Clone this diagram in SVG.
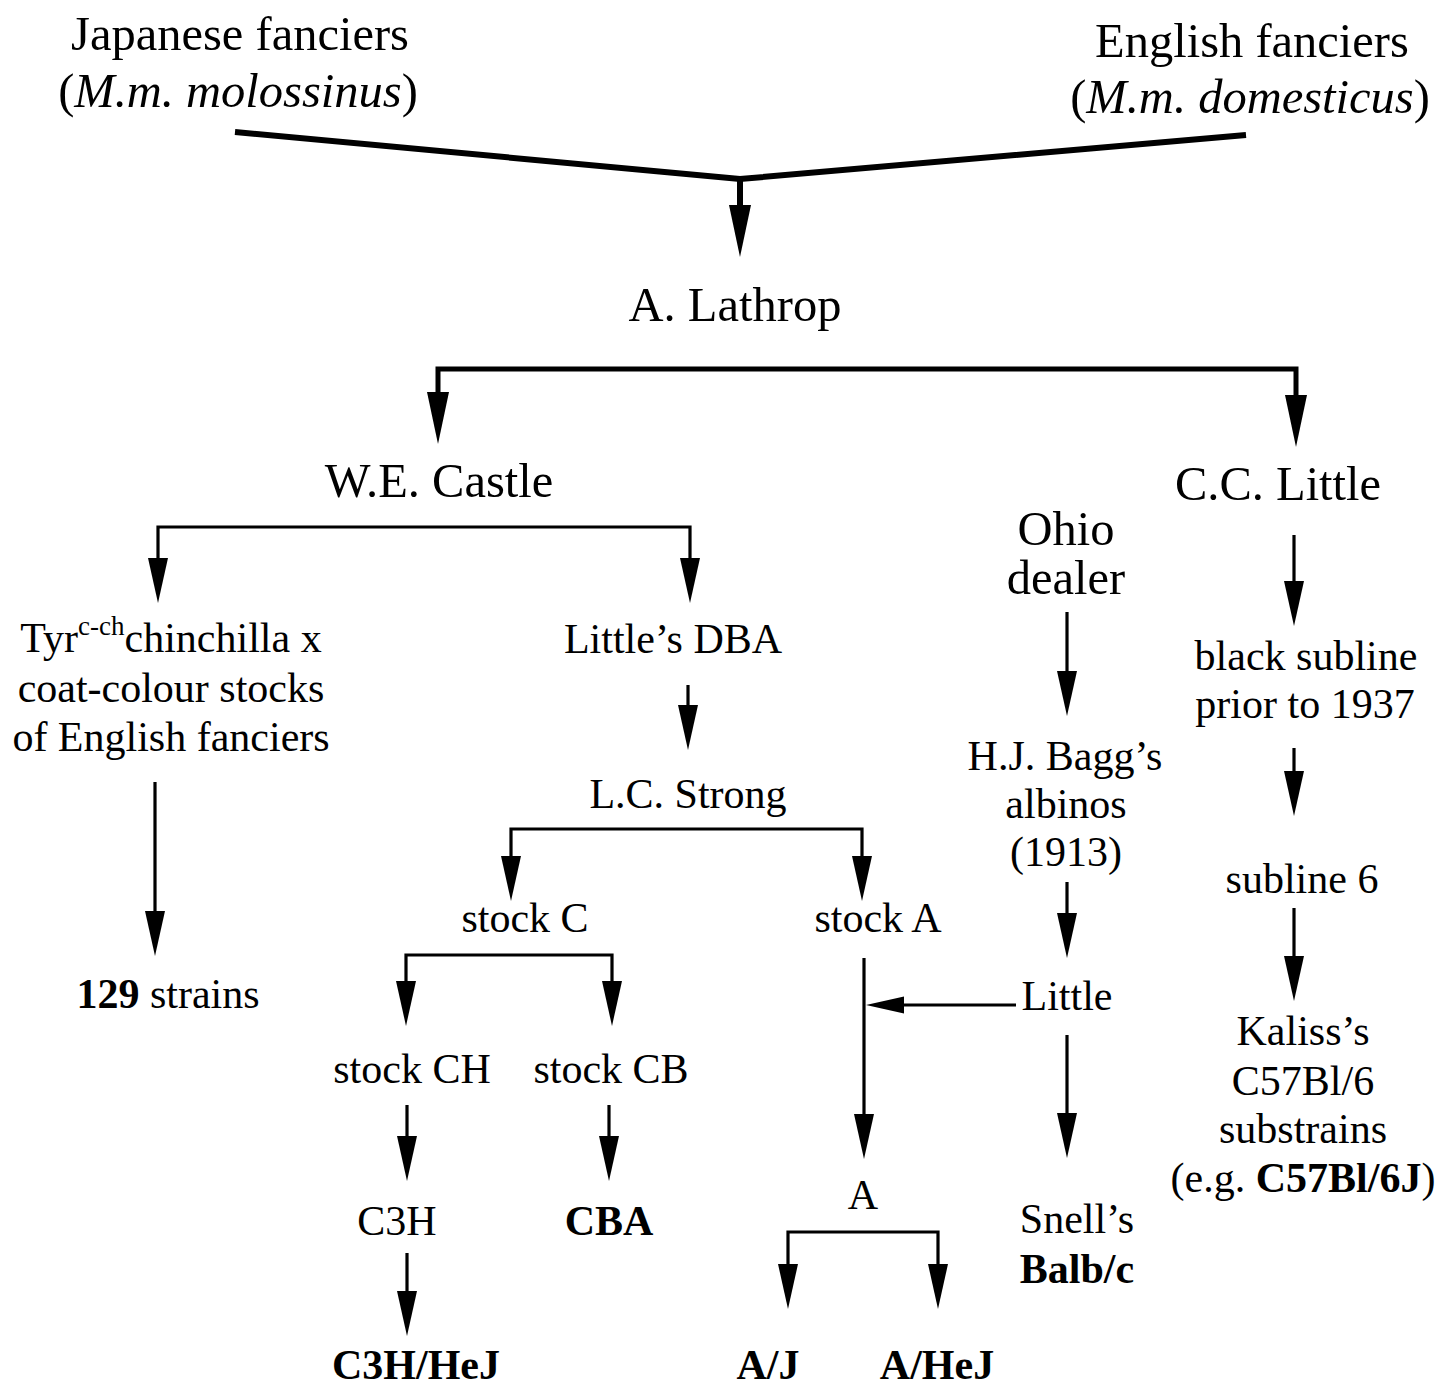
<svg xmlns="http://www.w3.org/2000/svg" width="1445" height="1388" viewBox="0 0 1445 1388">
  <style>
    text { font-family: "Liberation Serif", "Times New Roman", serif; fill: #000; text-anchor: middle; }
    .big { font-size: 48.5px; }
    .sm { font-size: 42px; }
    .b { font-weight: bold; }
    .it { font-style: italic; }
    .sup { font-size: 27px; }
    .wire { fill: none; stroke: #000; stroke-linejoin: miter; stroke-linecap: butt; }
    .w6 { stroke-width: 6; }
    .w5 { stroke-width: 5; }
    .w3 { stroke-width: 3.2; }
    .w2 { stroke-width: 2.8; }
  </style>
  <defs>
    <!-- arrowheads start at the line end and point forward -->
    <marker id="ahBig" markerUnits="userSpaceOnUse" markerWidth="60" markerHeight="30" refX="0" refY="11" orient="auto" overflow="visible">
      <path d="M0,0 L52,11 L0,22 Z" fill="#000"/>
    </marker>
    <marker id="ahMid" markerUnits="userSpaceOnUse" markerWidth="50" markerHeight="24" refX="0" refY="10" orient="auto" overflow="visible">
      <path d="M0,0 L45,10 L0,20 Z" fill="#000"/>
    </marker>
    <marker id="ahSide" markerUnits="userSpaceOnUse" markerWidth="44" markerHeight="20" refX="0" refY="8.5" orient="auto" overflow="visible">
      <path d="M0,0 L38,8.5 L0,17 Z" fill="#000"/>
    </marker>
  </defs>

  <!-- connectors -->
  <g id="connectors">
    <!-- fanciers merge into Lathrop -->
    <polyline class="wire w6" points="235,132 740,179 1246,135"/>
    <path class="wire w6" d="M740,179 V205" marker-end="url(#ahBig)"/>
    <!-- Lathrop split -->
    <path class="wire w5" d="M867,369 H438 V392" marker-end="url(#ahBig)"/>
    <path class="wire w5" d="M867,369 H1296 V395" marker-end="url(#ahBig)"/>
    <!-- Castle split -->
    <path class="wire w3" d="M420,527 H158 V558" marker-end="url(#ahMid)"/>
    <path class="wire w3" d="M420,527 H690 V558" marker-end="url(#ahMid)"/>
    <!-- chinchilla cross to 129 -->
    <path class="wire w3" d="M155,782 V911" marker-end="url(#ahMid)"/>
    <!-- DBA to Strong -->
    <path class="wire w3" d="M688,685 V705" marker-end="url(#ahMid)"/>
    <!-- Strong split -->
    <path class="wire w3" d="M690,829 H511 V856" marker-end="url(#ahMid)"/>
    <path class="wire w3" d="M690,829 H862 V856" marker-end="url(#ahMid)"/>
    <!-- stock C split -->
    <path class="wire w3" d="M510,955 H406 V981" marker-end="url(#ahMid)"/>
    <path class="wire w3" d="M510,955 H612 V981" marker-end="url(#ahMid)"/>
    <!-- stock CH / CB / C3H -->
    <path class="wire w3" d="M407,1105 V1136" marker-end="url(#ahMid)"/>
    <path class="wire w3" d="M609,1105 V1136" marker-end="url(#ahMid)"/>
    <path class="wire w3" d="M407,1253 V1291" marker-end="url(#ahMid)"/>
    <!-- stock A to A -->
    <path class="wire w3" d="M864,958 V1114" marker-end="url(#ahMid)"/>
    <!-- Little feeds into the A line -->
    <path class="wire w2" d="M1016,1005 H904" marker-end="url(#ahSide)"/>
    <!-- A split -->
    <path class="wire w3" d="M863,1232 H788 V1264" marker-end="url(#ahMid)"/>
    <path class="wire w3" d="M863,1232 H938 V1264" marker-end="url(#ahMid)"/>
    <!-- Ohio dealer column -->
    <path class="wire w3" d="M1067,612 V671" marker-end="url(#ahMid)"/>
    <path class="wire w3" d="M1067,882 V913" marker-end="url(#ahMid)"/>
    <path class="wire w3" d="M1067,1035 V1113" marker-end="url(#ahMid)"/>
    <!-- C.C. Little column -->
    <path class="wire w3" d="M1294,535 V581" marker-end="url(#ahMid)"/>
    <path class="wire w3" d="M1294,748 V771" marker-end="url(#ahMid)"/>
    <path class="wire w3" d="M1294,908 V956" marker-end="url(#ahMid)"/>
  </g>

  <!-- nodes -->
  <g id="japanese">
    <text class="big" x="240" y="50">Japanese fanciers</text>
    <text class="big" x="238" y="107">(<tspan class="it">M.m. molossinus</tspan>)</text>
  </g>
  <g id="english">
    <text class="big" x="1252" y="57">English fanciers</text>
    <text class="big" x="1250" y="113">(<tspan class="it">M.m. domesticus</tspan>)</text>
  </g>
  <g id="lathrop"><text class="big" x="735" y="321">A. Lathrop</text></g>
  <g id="castle"><text class="big" x="439" y="497">W.E. Castle</text></g>
  <g id="cclittle"><text class="big" x="1278" y="500">C.C. Little</text></g>
  <g id="ohio">
    <text class="big" x="1066" y="545">Ohio</text>
    <text class="big" x="1066" y="594">dealer</text>
  </g>
  <g id="chinchilla">
    <text class="sm" x="171" y="652">Tyr<tspan class="sup" dy="-17">c-ch</tspan><tspan dy="17">chinchilla x</tspan></text>
    <text class="sm" x="171" y="702">coat-colour stocks</text>
    <text class="sm" x="171" y="751">of English fanciers</text>
  </g>
  <g id="dba"><text class="sm" x="673" y="653">Little’s DBA</text></g>
  <g id="strong"><text class="sm" x="688" y="808">L.C. Strong</text></g>
  <g id="stockC"><text class="sm" x="525" y="932">stock C</text></g>
  <g id="stockA"><text class="sm" x="878" y="932">stock A</text></g>
  <g id="s129"><text class="sm" x="168" y="1008"><tspan class="b">129</tspan> strains</text></g>
  <g id="stockCH"><text class="sm" x="412" y="1083">stock CH</text></g>
  <g id="stockCB"><text class="sm" x="611" y="1083">stock CB</text></g>
  <g id="c3h"><text class="sm" x="397" y="1235">C3H</text></g>
  <g id="cba"><text class="sm b" x="609" y="1235">CBA</text></g>
  <g id="c3hhej"><text class="sm b" x="416" y="1379">C3H/HeJ</text></g>
  <g id="strainA"><text class="sm" x="863" y="1209">A</text></g>
  <g id="aj"><text class="sm b" x="768" y="1379">A/J</text></g>
  <g id="ahej"><text class="sm b" x="937" y="1379">A/HeJ</text></g>
  <g id="bagg">
    <text class="sm" x="1065" y="770">H.J. Bagg’s</text>
    <text class="sm" x="1066" y="818">albinos</text>
    <text class="sm" x="1066" y="866">(1913)</text>
  </g>
  <g id="little"><text class="sm" x="1067" y="1010">Little</text></g>
  <g id="balbc">
    <text class="sm" x="1077" y="1233">Snell’s</text>
    <text class="sm b" x="1077" y="1283">Balb/c</text>
  </g>
  <g id="black">
    <text class="sm" x="1306" y="670">black subline</text>
    <text class="sm" x="1305" y="718">prior to 1937</text>
  </g>
  <g id="sub6"><text class="sm" x="1302" y="893">subline 6</text></g>
  <g id="kaliss">
    <text class="sm" x="1303" y="1045">Kaliss’s</text>
    <text class="sm" x="1303" y="1095">C57Bl/6</text>
    <text class="sm" x="1303" y="1143">substrains</text>
    <text class="sm" x="1303" y="1192">(e.g. <tspan class="b">C57Bl/6J</tspan>)</text>
  </g>
</svg>
